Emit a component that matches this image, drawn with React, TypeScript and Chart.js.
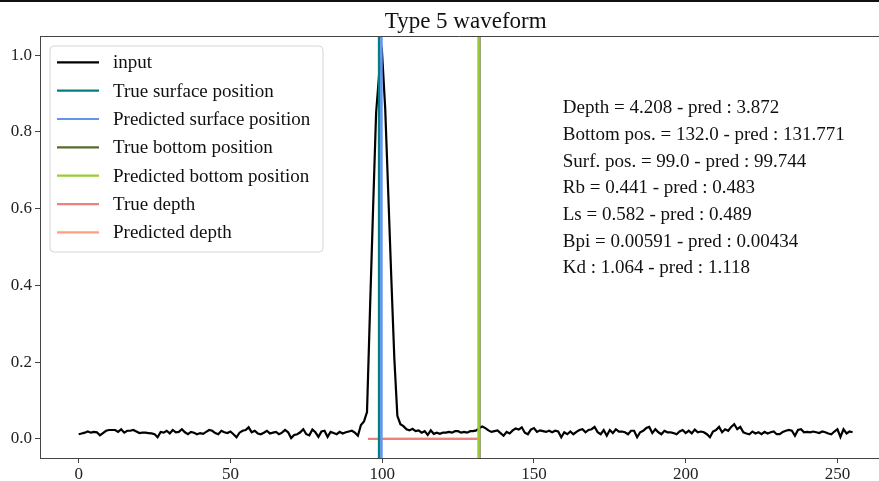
import React, { useEffect, useRef } from "react";
import { Chart, registerables } from "chart.js";

Chart.register(...registerables);

const TITLE = "Type 5 waveform";

// Input waveform, samples 0..255
const INPUT: number[] = [
  0.012, 0.014, 0.016, 0.019, 0.016, 0.018, 0.017, 0.009, 0.015, 0.021,
  0.023, 0.023, 0.023, 0.018, 0.025, 0.016, 0.021, 0.021, 0.023, 0.019,
  0.015, 0.016, 0.016, 0.015, 0.014, 0.012, 0.004, 0.018, 0.016, 0.021,
  0.014, 0.023, 0.017, 0.018, 0.025, 0.017, 0.012, 0.018, 0.016, 0.012,
  0.015, 0.013, 0.018, 0.023, 0.021, 0.015, 0.012, 0.021, 0.017, 0.015,
  0.019, 0.012, 0.004, 0.016, 0.021, 0.023, 0.030, 0.017, 0.021, 0.014,
  0.012, 0.016, 0.021, 0.014, 0.016, 0.018, 0.012, 0.016, 0.023, 0.017,
  0.002, 0.010, 0.012, 0.017, 0.025, 0.012, 0.009, 0.024, 0.017, 0.005,
  0.019, 0.021, 0.005, 0.018, 0.015, 0.012, 0.018, 0.014, 0.017, 0.019,
  0.021, 0.016, 0.008, 0.036, 0.045, 0.070, 0.340, 0.600, 0.850, 0.950,
  1.000, 0.860, 0.640, 0.420, 0.210, 0.060, 0.038, 0.033, 0.025, 0.022,
  0.026, 0.020, 0.022, 0.016, 0.020, 0.010, 0.022, 0.013, 0.016, 0.013,
  0.016, 0.016, 0.018, 0.016, 0.020, 0.020, 0.016, 0.018, 0.016, 0.020,
  0.020, 0.022, 0.028, 0.032, 0.028, 0.022, 0.018, 0.020, 0.022, 0.015,
  0.008, 0.018, 0.014, 0.022, 0.027, 0.024, 0.030, 0.016, 0.012, 0.024,
  0.028, 0.018, 0.022, 0.020, 0.018, 0.021, 0.017, 0.021, 0.019, 0.004,
  0.017, 0.012, 0.019, 0.012, 0.018, 0.023, 0.025, 0.017, 0.023, 0.025,
  0.031, 0.017, 0.012, 0.023, 0.008, 0.023, 0.015, 0.025, 0.019, 0.019,
  0.017, 0.012, 0.021, 0.021, 0.004, 0.017, 0.021, 0.028, 0.031, 0.015,
  0.025, 0.017, 0.012, 0.021, 0.017, 0.017, 0.015, 0.012, 0.019, 0.023,
  0.015, 0.021, 0.014, 0.024, 0.017, 0.019, 0.017, 0.012, 0.004, 0.019,
  0.023, 0.031, 0.017, 0.025, 0.021, 0.031, 0.038, 0.025, 0.031, 0.017,
  0.014, 0.012, 0.019, 0.014, 0.017, 0.012, 0.018, 0.014, 0.017, 0.019,
  0.012, 0.012, 0.018, 0.021, 0.023, 0.021, 0.008, 0.023, 0.025, 0.017,
  0.018, 0.017, 0.019, 0.017, 0.015, 0.019, 0.017, 0.014, 0.012, 0.019,
  0.025, 0.005, 0.025, 0.014, 0.019, 0.017,
];

const TRUE_SURFACE = 99.0;
const PRED_SURFACE = 99.744;
const TRUE_BOTTOM = 132.0;
const PRED_BOTTOM = 131.771;
const TRUE_DEPTH_SPAN = [95.3, 132.0];
const PRED_DEPTH_SPAN = [99.744, 131.771];
const DEPTH_LEVEL = 0;

const SERIES_LABELS = [
  "input",
  "True surface position",
  "Predicted surface position",
  "True bottom position",
  "Predicted bottom position",
  "True depth",
  "Predicted depth",
];
const SERIES_COLORS = [
  "#000000",
  "#008080",
  "#6495ED",
  "#556B2F",
  "#9ACD32",
  "#F08080",
  "#FFA07A",
];
const SERIES_WIDTHS = [2.2, 2.6, 2.6, 2.6, 2.6, 2.2, 2.2];

const X_TICKS = [0, 50, 100, 150, 200, 250];
const Y_TICKS = [0, 0.2, 0.4, 0.6, 0.8, 1.0];
const X_MIN = -12.75;
const X_MAX = 263.7;
const X_AXES_MAX = 267.75;
const Y_MIN = -0.05;
const Y_MAX = 1.05;

const INFO_LINES = [
  "Depth = 4.208 - pred : 3.872",
  "Bottom pos. = 132.0 - pred : 131.771",
  "Surf. pos. = 99.0 - pred : 99.744",
  "Rb = 0.441 - pred : 0.483",
  "Ls = 0.582 - pred : 0.489",
  "Bpi = 0.00591 - pred : 0.00434",
  "Kd : 1.064 - pred : 1.118",
];
const INFO_ANCHOR = { x: 159.5, y: 0.862 };

const FONT = "'Liberation Serif', 'Times New Roman', serif";

export default function App() {
  const ref = useRef<HTMLCanvasElement | null>(null);

  useEffect(() => {
    document.body.style.margin = "0";
    const canvas = ref.current;
    if (!canvas) return;

    const vline = (x: number) => [
      { x, y: Y_MIN },
      { x, y: Y_MAX },
    ];
    const hline = (span: number[]) => [
      { x: span[0], y: DEPTH_LEVEL },
      { x: span[1], y: DEPTH_LEVEL },
    ];

    const seriesData = [
      INPUT.map((y, i) => ({ x: i, y })),
      vline(TRUE_SURFACE),
      vline(PRED_SURFACE),
      vline(TRUE_BOTTOM),
      vline(PRED_BOTTOM),
      hline(TRUE_DEPTH_SPAN),
      hline(PRED_DEPTH_SPAN),
    ];
    // higher order is drawn first (underneath)
    const orders = [7, 3, 2, 1, 0, 5, 6];

    const datasets = seriesData.map((data, i) => ({
      label: SERIES_LABELS[i],
      data,
      borderColor: SERIES_COLORS[i],
      backgroundColor: SERIES_COLORS[i],
      borderWidth: SERIES_WIDTHS[i],
      pointRadius: 0,
      fill: false,
      tension: 0,
      order: orders[i],
    }));

    const framePlugin = {
      id: "frame",
      beforeDraw(chart: any) {
        const { ctx, width, height } = chart;
        ctx.save();
        ctx.fillStyle = "#ffffff";
        ctx.fillRect(0, 0, width, height);
        ctx.restore();
      },
      afterDraw(chart: any) {
        const { ctx, chartArea } = chart;
        const xs = chart.scales.x;
        const ys = chart.scales.y;
        ctx.save();
        // dark strip at the very top
        ctx.fillStyle = "#111";
        ctx.fillRect(0, 0, chart.width, 2);
        // top spine
        ctx.strokeStyle = "#444";
        ctx.lineWidth = 1;
        ctx.beginPath();
        ctx.moveTo(chartArea.left, Math.round(chartArea.top) + 0.5);
        ctx.lineTo(chartArea.right, Math.round(chartArea.top) + 0.5);
        ctx.stroke();

        // title
        ctx.fillStyle = "#111";
        ctx.font = `23px ${FONT}`;
        ctx.textAlign = "center";
        ctx.textBaseline = "alphabetic";
        const cx = xs.getPixelForValue((X_MIN + X_AXES_MAX) / 2);
        ctx.fillText(TITLE, cx, 28);

        // legend box
        const bx = 50, by = 46, bw = 273, bh = 206, r = 4;
        ctx.beginPath();
        ctx.moveTo(bx + r, by);
        ctx.lineTo(bx + bw - r, by);
        ctx.quadraticCurveTo(bx + bw, by, bx + bw, by + r);
        ctx.lineTo(bx + bw, by + bh - r);
        ctx.quadraticCurveTo(bx + bw, by + bh, bx + bw - r, by + bh);
        ctx.lineTo(bx + r, by + bh);
        ctx.quadraticCurveTo(bx, by + bh, bx, by + bh - r);
        ctx.lineTo(bx, by + r);
        ctx.quadraticCurveTo(bx, by, bx + r, by);
        ctx.closePath();
        ctx.fillStyle = "rgba(255,255,255,0.85)";
        ctx.fill();
        ctx.strokeStyle = "#d6d6d6";
        ctx.lineWidth = 1;
        ctx.stroke();

        ctx.font = `19px ${FONT}`;
        ctx.textAlign = "left";
        ctx.textBaseline = "middle";
        chart.data.datasets.forEach((ds: any, i: number) => {
          const y = 62.3 + i * 28.35;
          ctx.strokeStyle = ds.borderColor;
          ctx.lineWidth = 2.2;
          ctx.beginPath();
          ctx.moveTo(57, y);
          ctx.lineTo(99, y);
          ctx.stroke();
          ctx.fillStyle = "#111";
          ctx.fillText(ds.label, 113, y + 1);
        });

        // info text
        const tx = xs.getPixelForValue(INFO_ANCHOR.x);
        const ty = ys.getPixelForValue(INFO_ANCHOR.y);
        ctx.font = `19px ${FONT}`;
        ctx.fillStyle = "#111";
        INFO_LINES.forEach((line, i) => {
          ctx.fillText(line, tx, ty + i * 26.7);
        });
        ctx.restore();
      },
    };

    const chart = new Chart(canvas, {
      type: "line",
      data: { datasets } as any,
      options: {
        animation: false,
        responsive: false,
        maintainAspectRatio: false,
        devicePixelRatio: 1,
        layout: { padding: { top: 36, left: 0, right: 0, bottom: 0 } },
        plugins: {
          legend: { display: false },
          title: { display: false },
          tooltip: { enabled: false },
        },
        scales: {
          x: {
            type: "linear",
            min: X_MIN,
            max: X_MAX,
            afterBuildTicks: (s: any) => {
              s.ticks = X_TICKS.map((v) => ({ value: v }));
            },
            afterFit: (s: any) => {
              s.height = 23;
            },
            grid: {
              drawOnChartArea: false,
              drawTicks: true,
              tickLength: 5,
              color: "#444",
              lineWidth: 1,
            },
            border: { display: true, color: "#444", width: 1 },
            ticks: {
              color: "#222",
              font: { family: FONT, size: 17 },
              padding: 1,
              maxRotation: 0,
              autoSkip: false,
              callback: (v: any) => String(v),
            },
          },
          y: {
            type: "linear",
            min: Y_MIN,
            max: Y_MAX,
            afterBuildTicks: (s: any) => {
              s.ticks = Y_TICKS.map((v) => ({ value: v }));
            },
            afterFit: (s: any) => {
              s.width = 40;
            },
            grid: {
              drawOnChartArea: false,
              drawTicks: true,
              tickLength: 5,
              color: "#444",
              lineWidth: 1,
            },
            border: { display: true, color: "#444", width: 1 },
            ticks: {
              color: "#222",
              font: { family: FONT, size: 17 },
              padding: 3,
              autoSkip: false,
              callback: (v: any) => Number(v).toFixed(1),
            },
          },
        },
      } as any,
      plugins: [framePlugin],
    });

    return () => chart.destroy();
  }, []);

  return (
    <div style={{ width: 879, height: 481 }}>
      <canvas ref={ref} width={879} height={481} style={{ display: "block" }} />
    </div>
  );
}
